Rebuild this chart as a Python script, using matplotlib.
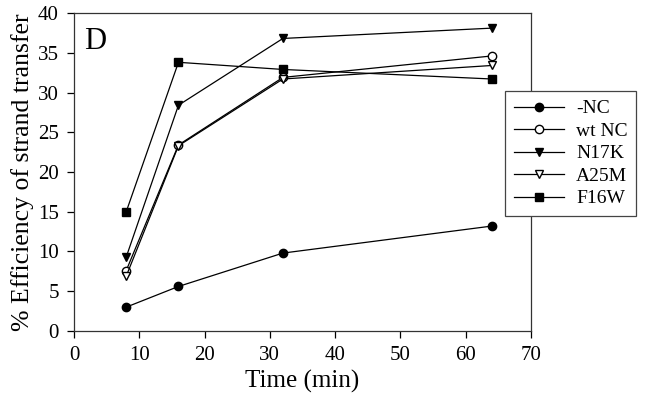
import matplotlib
matplotlib.use('Agg')
import matplotlib.pyplot as plt

plt.rcParams['font.family'] = ['Liberation Serif', 'DejaVu Serif']

time = [8, 16, 32, 64]

neg_nc = [3.0, 5.6, 9.8, 13.2]
wt_nc = [7.6, 23.4, 31.9, 34.6]
n17k = [9.3, 28.4, 36.8, 38.1]
a25m = [6.9, 23.3, 31.7, 33.4]
f16w = [15.0, 33.8, 32.9, 31.7]

fig = plt.figure(figsize=(6.45, 4.03), dpi=100)
ax = fig.add_axes([0.1147, 0.1787, 0.7086, 0.789])

ms = 6
lw = 0.9
ax.plot(time, neg_nc, 'k-', marker='o', ms=ms, lw=lw, label='-NC')
ax.plot(time, wt_nc, 'k-', marker='o', ms=ms, lw=lw, mfc='white', label='wt NC')
ax.plot(time, n17k, 'k-', marker='v', ms=ms, lw=lw, label='N17K')
ax.plot(time, a25m, 'k-', marker='v', ms=ms, lw=lw, mfc='white', label='A25M')
ax.plot(time, f16w, 'k-', marker='s', ms=ms - 0.5, lw=lw, label='F16W')

ax.set_xlim(0, 70)
ax.set_ylim(0, 40)
ax.set_xticks(range(0, 71, 10))
ax.set_yticks(range(0, 41, 5))
ax.tick_params(direction='out', length=5, width=0.9, labelsize=15, pad=6,
               top=False, right=False)
for s in ax.spines.values():
    s.set_linewidth(0.9)
    s.set_color('#333333')

ax.set_xlabel('Time (min)', fontsize=18, labelpad=3)
ax.set_ylabel('% Efficiency of strand transfer', fontsize=18.5, labelpad=3)
ax.text(1.5, 38.3, 'D', fontsize=22, va='top', ha='left')

leg = fig.legend(loc='upper left', bbox_to_anchor=(0.783, 0.774), fontsize=14,
                 fancybox=False, framealpha=1, edgecolor='#444444',
                 handlelength=2.6, borderpad=0.45, labelspacing=0.25,
                 handletextpad=0.6, borderaxespad=0)
leg.get_frame().set_linewidth(0.9)

fig.savefig('out.png', dpi=100)
